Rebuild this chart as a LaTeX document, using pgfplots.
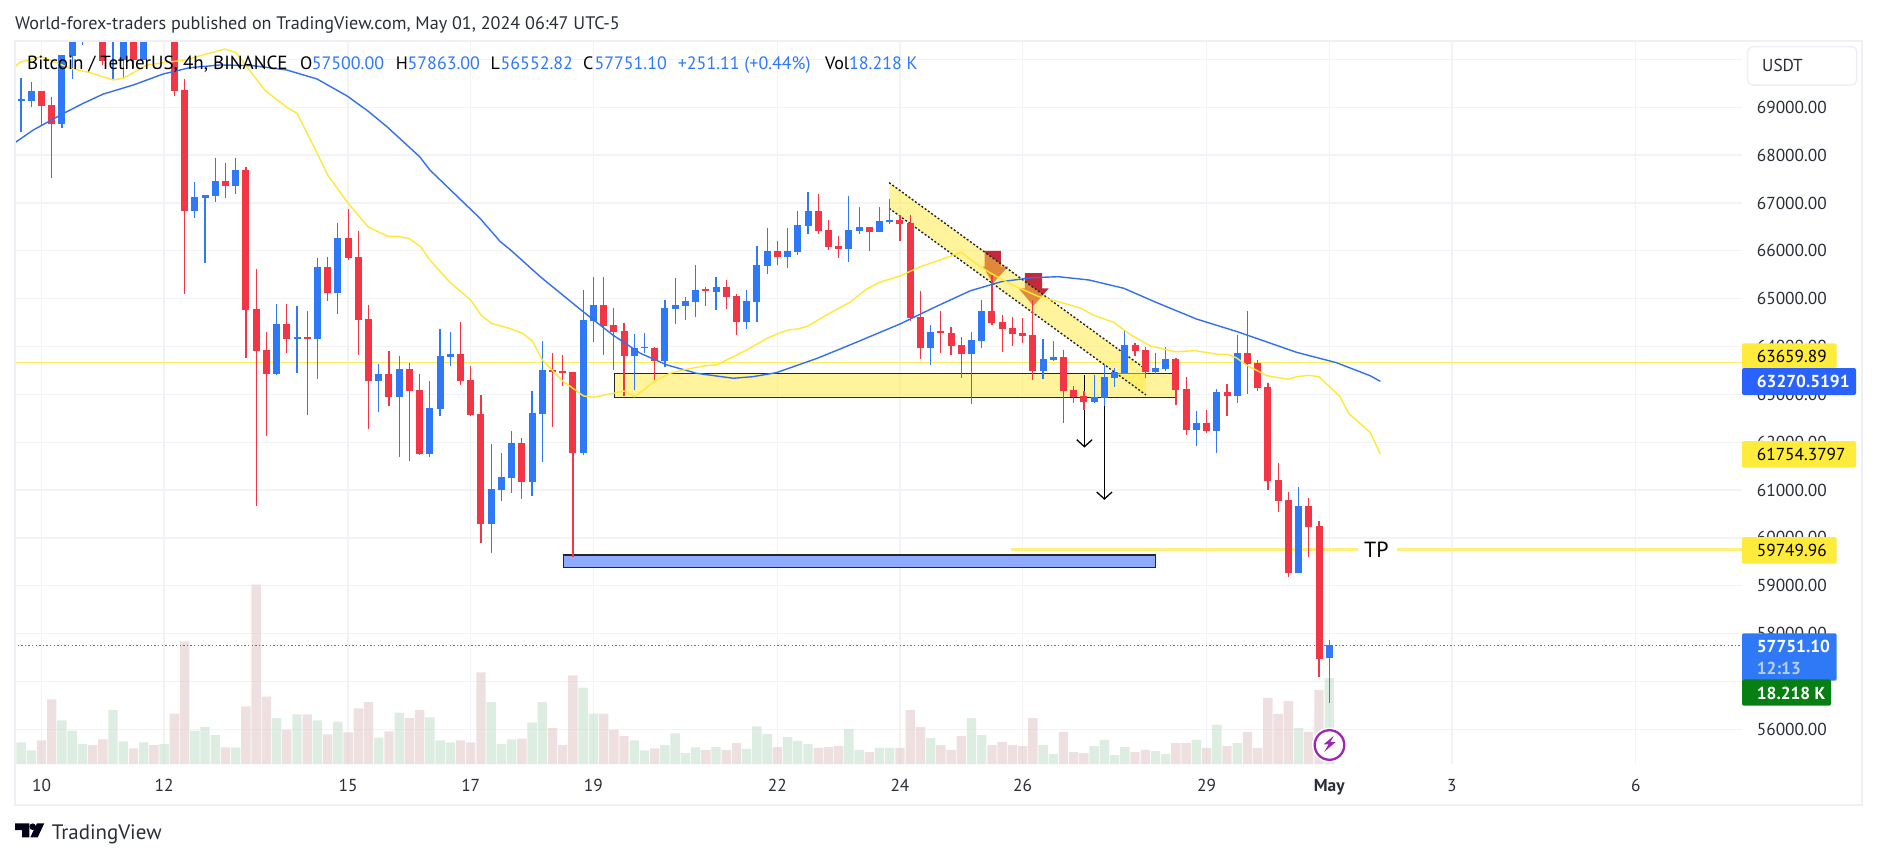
\documentclass[border=0pt]{standalone}
\usepackage{fontspec}
\setmainfont{PT Sans}
\usepackage{pgfplots}
\usepackage{pgfplotstable}
\pgfplotsset{compat=1.18}
\definecolor{cblue}{HTML}{2F78F6}
\definecolor{cred}{HTML}{F23645}
\definecolor{gridc}{HTML}{F2F3F6}
\definecolor{framec}{HTML}{EFF0F5}
\definecolor{yel}{HTML}{FFEB3B}
\definecolor{maY}{HTML}{FFE838}
\definecolor{maB}{HTML}{3370F0}
\definecolor{tpY}{HTML}{FFF07A}
\definecolor{volG}{HTML}{BDDDC5}
\definecolor{volR}{HTML}{DFC3C5}
\definecolor{bandY}{HTML}{FFEB3B}
\definecolor{darkr}{HTML}{C4283A}
\definecolor{txt}{HTML}{2A2E39}
\definecolor{boxB}{HTML}{8FABFF}
\definecolor{lastB}{HTML}{2962FF}
\definecolor{greenb}{HTML}{087F12}
\definecolor{purp}{HTML}{9C27B0}

\pgfplotstableread{
i o h l c
-2 69130 69612 68483 69170
-1 69131 69522 69006 69340
2 68650 70092 68567 70092
3 70072 70720 69591 70615
4 70510 70824 70302 70720
7 70448 70824 69570 70720
8 69988 70615 69612 70510
10 69988 70615 69988 70510
12 70448 70824 70406 70720
15 66832 67438 66686 67125
16 67104 67166 65745 67166
17 67146 67940 67020 67459
19 67355 67940 67187 67689
23 63425 64888 63404 64470
25 64160 64847 63446 64200
27 64157 65850 63321 65662
29 65118 66581 64679 66268
33 63279 63634 62631 63425
35 62945 63802 61691 63530
38 61753 63279 61691 62715
39 62694 64366 62548 63802
40 63781 64303 63593 63843
44 60290 61962 59684 61022
45 61001 61774 60771 61273
46 61252 62234 60938 61983
48 61168 63070 60876 62610
49 62589 64115 61586 63509
53 61774 65181 61733 64554
54 64533 65453 64094 64867
58 63802 64261 63091 63969
59 63960 64282 63864 64000
61 63697 64972 63572 64805
62 64784 65432 64470 64867
63 64847 65035 64554 64951
64 64930 65703 64617 65181
66 65139 65453 64763 65244
69 64512 65181 64366 64951
70 64930 66101 64512 65703
71 65683 66477 65515 65996
73 65871 66477 65641 65996
74 65975 66832 65913 66540
75 66519 67229 66351 66832
79 66038 67146 65766 66435
80 66414 66916 66351 66498
82 66393 66916 66393 66623
83 66600 67083 66560 66640
87 63969 64450 63614 64303
91 63843 64303 62798 64136
92 64115 64972 63969 64742
98 63488 64157 63321 63739
99 63718 64115 63697 63781
103 62840 63404 62819 62945
104 62924 63614 62757 63363
105 63342 63551 63154 63467
106 63446 64345 63446 64032
109 63467 63864 63425 63551
110 63530 63990 63488 63739
113 62255 62652 61921 62401
115 62234 63112 61774 63049
117 62966 64241 62819 63864
123 59266 61064 59266 60667
126 57500 57863 56552.82 57751.10
}\bluecandles

\pgfplotstableread{
i o h l c
0 69340 69340 68630 69027
1 69047 69215 67522 68650
5 70720 70824 70448 70510
6 70510 70615 69884 69967
9 70510 70615 69821 69988
11 70615 70720 70406 70448
13 70510 70615 69236 69340
14 69361 69591 65097 66832
18 67459 67835 67104 67355
20 67689 67752 63760 64763
21 64784 65620 60667 63906
22 63927 64303 62130 63425
24 64470 64888 63864 64157
26 64200 64742 62569 64160
28 65662 65871 64951 65118
30 66268 66874 65808 65850
31 65871 66414 63823 64554
32 64575 64867 62276 63279
34 63425 63906 62757 62945
36 63530 63655 61607 63070
37 63091 63425 61733 61753
41 63843 64512 63196 63279
42 63300 63593 62548 62569
43 62589 62987 59893 60290
47 61983 62088 60813 61168
50 63508 63864 62318 63468
51 63490 63823 63175 63450
52 63467 63467 59601 61774
55 64867 65453 63823 64429
56 64450 64805 63509 64303
57 64324 64491 62966 63802
60 63969 63990 63300 63697
65 65200 65244 64847 65160
67 65244 65390 64784 65035
68 65056 65097 64240 64512
72 65996 66205 65703 65871
76 66832 67187 66351 66414
77 66435 66644 66017 66080
78 66101 66310 65850 66038
81 66498 66498 65996 66393
84 66644 66749 66205 66560
85 66581 66749 64533 64596
86 64617 65160 63739 63969
88 64320 64742 63864 64280
89 64282 64408 63823 64011
90 64032 64199 63342 63843
93 64742 65495 64450 64491
94 64512 64658 63885 64366
95 64387 64617 64011 64261
96 64282 64596 64073 64220
97 64241 64972 63300 63488
100 63781 63927 62401 63070
101 63091 63175 62819 62945
102 62966 63070 62673 62840
107 64032 64073 63802 63906
108 63927 63990 63342 63467
111 63739 63760 62777 63091
112 63112 63363 62150 62255
114 62401 62673 62192 62234
116 63049 63216 62548 62966
118 63864 64742 63007 63634
119 63655 63718 63070 63133
120 63154 63237 61001 61189
121 61210 61565 60541 60771
122 60792 60959 59183 59266
124 60667 60834 59601 60227
125 60249 60353 57093 57469
}\redcandles

\pgfplotstableread{
i v
-2 4.6
-1 2.9
2 9.25
3 7.1
4 4.2
7 11.4
8 4.8
10 4.6
12 4.2
15 7.1
16 7.8
17 6.1
19 3.5
23 9.7
25 10.5
27 9.25
29 9.0
33 5.6
35 10.9
38 9.9
39 5
40 4.6
44 13.1
45 4.2
46 5.2
48 8.8
49 13.1
53 16.2
54 10.7
58 5
59 2.9
61 4
62 6.5
63 2.3
64 3.5
66 3.6
69 3.2
70 8
71 6.4
73 5.7
74 4.9
75 4.2
79 7.4
80 3
82 3.4
83 3.4
87 5.5
91 9.7
92 6.1
98 4
99 2.1
103 3.8
104 5.1
105 1.9
106 3.6
109 2.75
110 2.1
113 5.1
115 8.3
117 4.4
123 7.6
126 18.218
}\volgreen

\pgfplotstableread{
i v
0 5.0
1 13.7
5 4.0
6 5.2
9 3.3
11 4.0
13 10.7
14 26
18 3.5
20 12.2
21 38
22 14.3
24 7.3
26 10.5
28 6.3
30 6.7
31 11.8
32 13.1
34 6.9
36 9.7
37 11.4
41 5
42 4.6
43 19.4
47 5.4
50 7.6
51 4
52 18.8
55 10.7
56 7.3
57 5.9
60 3.3
65 3
67 3
68 4.4
72 3.6
76 3.4
77 3.6
78 3.8
81 2.5
84 3.4
85 11.4
86 7.8
88 4
89 3
90 5.9
93 4
94 4.7
95 4
96 3.8
97 9.7
100 6.8
101 2.5
102 2.3
107 2.5
108 3
111 4.4
112 4.4
114 3.4
116 3.8
118 6.8
119 3.4
120 14
121 10.6
122 13.3
124 6.8
125 15.7
}\volred

\newcommand\fs[1]{\fontsize{#1}{#1}\selectfont}
\newcommand\T[4][txt]{\node[anchor=base west,inner sep=0pt,text=#1] at (#2,#3) {#4};}
\pgfplotsset{
  pane/.style={
    scale only axis, width=1728bp, height=723bp,
    at={(14bp,-41bp)}, anchor=north west,
    xmin=-2.691, xmax=166.39,
    axis line style={draw=none}, tick style={draw=none},
  },
  candle/.style 2 args={draw=none,mark=none,
    error bars/.cd,y dir=#1,y explicit,error mark=none,
    error mark options={draw=none,fill=none,mark size=0pt},
    error bar style={#2}},
}
\begin{document}
\begin{tikzpicture}
\useasboundingbox (0,0) rectangle (1877bp,-858bp);
\fill[white] (0,0) rectangle (1877bp,-858bp);

% grid and tick labels
\begin{axis}[pane, ymin=55274, ymax=70385,
  xtick={0,12,30,42,54,72,84,96,114,126,138,156},
  xticklabels={10,12,15,17,19,22,24,26,29,{\bfseries May},3,6},
  ytick={56000,57000,...,70000},
  xmajorgrids, ymajorgrids,
  grid style={line width=1.3bp,draw=gridc},
  yticklabel pos=right,
  ticklabel style={font=\fs{17.4},text=txt},
  yticklabel style={anchor=west,inner sep=0pt,xshift=14.7bp,
    /pgf/number format/.cd,fixed,fixed zerofill,precision=2,1000 sep={},assume math mode=true},
  xticklabel style={anchor=base,inner sep=0pt,yshift=-27bp,
    /pgf/number format/assume math mode=true},
  scaled y ticks=false,
]
\addplot[draw=none,forget plot] coordinates {(0,60000)};
\end{axis}

% volume
\begin{axis}[pane, ymin=0, ymax=153.2, hide axis, clip=true]
\addplot[ybar,bar width=9.4bp,bar shift=0pt,draw=none,fill=volG,fill opacity=.5] table[x=i,y=v] {\volgreen};
\addplot[ybar,bar width=9.4bp,bar shift=0pt,draw=none,fill=volR,fill opacity=.5] table[x=i,y=v] {\volred};
\end{axis}

% price pane
\begin{axis}[pane, ymin=55274, ymax=70385, hide axis, clip=true]
% horizontal lines
\addplot[line width=1.2bp,draw=maY!80] coordinates {(-2.691,63659.89)(166.39,63659.89)};
\addplot[line width=1.3bp,draw=cblue,dash pattern=on 1.4bp off 2.2bp] coordinates {(-2.691,57751.1)(166.39,57751.1)};
\addplot[line width=2.8bp,draw=tpY] coordinates {(94.9,59749.96)(128.8,59749.96)};
\addplot[line width=2.8bp,draw=tpY] coordinates {(132.6,59749.96)(166.39,59749.96)};
% zones
\addplot[draw=black!85,line width=1.4bp,fill=bandY,fill opacity=.5] coordinates {(56.06,63440)(111.0,63440)(111.0,62938)(56.06,62938)} --cycle;
\addplot[draw=black!85,line width=1.4bp,fill=boxB] coordinates {(51.06,59643)(109.0,59643)(109.0,59386)(51.06,59386)} --cycle;
% red arrows
\addplot[draw=none,fill=darkr] coordinates {(92.27,65996)(93.88,65996)(93.88,65668)(94.57,65668)(93.1,65321)(92.12,65668)(92.27,65668)} --cycle;
\addplot[draw=none,fill=darkr] coordinates {(96.23,65536)(97.9,65536)(97.9,65216)(98.56,65216)(97.06,64847)(95.6,65216)(96.23,65216)} --cycle;
% channel
\addplot[draw=none,fill=bandY,fill opacity=.5] coordinates {(82.94,67424)(108.07,63522)(108.07,62987)(82.94,66888)} --cycle;
\addplot[line width=1.4bp,draw=black!85,dash pattern=on 2bp off 2bp] coordinates {(82.94,67424)(108.07,63522)};
\addplot[line width=1.4bp,draw=black!85,dash pattern=on 2bp off 2bp] coordinates {(82.94,66888)(108.07,62987)};
% black arrows
\addplot[line width=1.3bp,draw=black] coordinates {(102.05,63404)(102.05,61906)};
\addplot[line width=1.3bp,draw=black] coordinates {(101.3,62052)(102.05,61906)(102.8,62052)};
\addplot[line width=1.3bp,draw=black] coordinates {(104.0,63404)(104.0,60813)};
\addplot[line width=1.3bp,draw=black] coordinates {(103.25,60959)(104.0,60813)(104.75,60959)};
% candles
\addplot[candle={both}{line width=1.2bp,draw=cblue}]
  table[x=i,y=o,y error plus expr=\thisrow{h}-\thisrow{o},y error minus expr=\thisrow{o}-\thisrow{l}] {\bluecandles};
\addplot[candle={both}{line width=1.2bp,draw=cred}]
  table[x=i,y=o,y error plus expr=\thisrow{h}-\thisrow{o},y error minus expr=\thisrow{o}-\thisrow{l}] {\redcandles};
\addplot[candle={plus}{line width=7bp,draw=cblue}]
  table[x=i,y=o,y error plus expr=\thisrow{c}-\thisrow{o}] {\bluecandles};
\addplot[candle={minus}{line width=7bp,draw=cred}]
  table[x=i,y=o,y error minus expr=\thisrow{o}-\thisrow{c}] {\redcandles};
% moving averages
\addplot[line width=1.4bp,draw=maB] coordinates {
(-2.6,68260)(-0.8,68525)(2.04,68859)(4.09,69083)(6.05,69277)(8.98,69465)(11.9,69695)(14.5,69827)(17.47,69884)(20.7,69869)(24.0,69779)(26.96,69591)(29.9,69236)(31.9,68928)(33.8,68594)(37.0,67967)(38.0,67689)(42.9,66680)(44.9,66190)(45.9,66017)(48.8,65459)(53,64727)(55.9,64241)(58.6,63858)(61.2,63614)(64.1,63440)(67.7,63336)(69.6,63369)(71.9,63453)(75.9,63753)(79.1,64032)(84,64470)(87.5,64832)(90.9,65166)(93.9,65354)(96.9,65438)(99.5,65459)(102.5,65390)(105.9,65217)(108.9,64937)(113,64575)(117,64310)(122.8,63879)(126.7,63662)(130,63390)(131,63272)};
\addplot[line width=1.4bp,draw=maY] coordinates {
(-2.6,69848)(-2.1,69940)(0.0,70057)(2.8,69815)(4.75,69723)(7.03,69570)(8.0,69605)(10.3,69884)(14.04,69988)(17.95,70218)(19.03,70141)(20.2,69815)(21.9,69346)(24.0,69000)(25,68874)(26.9,68072)(28,67585)(30,66993)(32,66491)(33.9,66303)(34.9,66303)(36,66253)(37.1,66086)(38,65808)(40,65334)(42,64972)(43,64658)(44,64485)(45.9,64372)(47.06,64276)(48.06,64109)(49,63718)(51,63279)(53.04,62966)(54,62938)(55.95,63022)(57,63070)(58,62951)(59,63106)(60,63279)(61.5,63440)(63.1,63524)(64.8,63593)(66.1,63620)(69,63927)(71,64172)(72.3,64289)(73.1,64345)(74,64366)(75,64429)(76.8,64658)(79.1,64924)(80.7,65196)(82,65342)(84,65474)(86,65668)(87.9,65808)(90,65969)(91.6,65703)(92.9,65530)(95,65285)(97.6,65041)(99.5,64937)(101.7,64799)(102.9,64658)(104.9,64506)(106.6,64241)(108.5,64011)(110.9,63891)(112.9,63912)(115.1,63837)(116,63837)(116.9,63766)(117.9,63613)(119.9,63390)(122,63315)(122.8,63369)(124,63398)(125,63369)(127.06,62951)(127.9,62604)(130,62207)(131,61754)};
\end{axis}

% overlay, in picture pixels from the top left
\begin{scope}[x=1bp,y=-1bp]
\draw[framec,line width=2bp] (15,41) rectangle (1862,805);
% texts
\T{15}{29}{\fs{18.2}World-forex-traders published on TradingView.com, May 01, 2024 06:47 UTC-5}
\T[black]{27}{69.5}{\fs{19.1}Bitcoin / TetherUS, 4h, BINANCE}
\T[black]{299.8}{69.5}{\fs{18}O}\T[cblue]{311.6}{69.5}{\fs{18}57500.00}
\T[black]{395.7}{69.5}{\fs{18}H}\T[cblue]{407.5}{69.5}{\fs{18}57863.00}
\T[black]{490.4}{69.5}{\fs{18}L}\T[cblue]{500.5}{69.5}{\fs{18}56552.82}
\T[black]{583}{69.5}{\fs{18}C}\T[cblue]{594.4}{69.5}{\fs{18}57751.10}
\T[cblue]{677.7}{69.5}{\fs{18}+251.11 (+0.44\%)}
\T[black]{825}{69.5}{\fs{18}Vol}\T[cblue]{849}{69.5}{\fs{18}18.218 K}
\T[black]{1364}{557.5}{\fs{22}TP}
% USDT box
\draw[framec,fill=white,line width=1.5bp,rounded corners=5bp] (1747.7,46.7) rectangle (1856.7,85);
\T{1762}{71.5}{\fs{17.4}USDT}
% price badges
\fill[yel,rounded corners=2bp] (1742,343.3) rectangle (1836.7,368.3);
\T[black]{1756.7}{362}{\fs{17.4}63659.89}
\fill[lastB,rounded corners=2bp] (1742,368) rectangle (1856,395);
\T[white]{1756.7}{387.5}{\fs{17.4}\bfseries 63270.5191}
\fill[yel,rounded corners=2bp] (1742,441) rectangle (1856,467.7);
\T[black]{1756.7}{460.5}{\fs{17.4}61754.3797}
\fill[yel,rounded corners=2bp] (1742,537) rectangle (1836.7,563.7);
\T[black]{1756.7}{556.5}{\fs{17.4}59749.96}
\fill[cblue,rounded corners=2bp] (1742,633.3) rectangle (1836.7,680.7);
\T[white]{1756.7}{652.5}{\fs{17.4}\bfseries 57751.10}
\T[white!65!cblue]{1756.7}{674.5}{\fs{17.4}\bfseries 12:13}
\fill[greenb,rounded corners=2bp] (1742,679.3) rectangle (1831,705.7);
\T[white]{1756.7}{699}{\fs{17.4}\bfseries 18.218 K}
% lightning
\fill[white] (1329.5,745) circle (17.5);
\draw[purp,line width=2.3bp] (1329.5,745) circle (14.8);
\fill[purp] (1333.9,735.7)--(1323.7,744.3)--(1328.6,744.3)--(1324.1,752)--(1335.7,742)--(1330.4,742)--cycle;
% logo
\fill[black!90!blue] (15,823.3)--(29.3,823.3)--(29.3,837.3)--(22,837.3)--(22,830)--(15,830)--cycle;
\fill[black!90!blue] (32.7,826.7) circle (3.3);
\fill[black!90!blue] (44.3,823.3)--(37.7,837.3)--(30.3,837.3)--(37,823.3)--cycle;
\T{51.7}{839}{\fs{21}TradingView}
\end{scope}
\end{tikzpicture}
\end{document}
